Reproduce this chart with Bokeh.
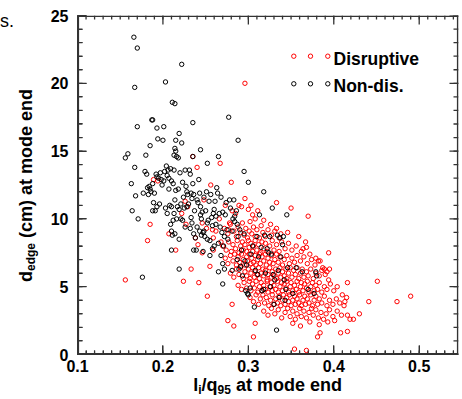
import math
from bokeh.plotting import figure
from bokeh.models import SingleIntervalTicker, Range1d, Label, Div
from bokeh.layouts import row, column
from bokeh.embed import file_html
from bokeh.resources import INLINE

# ---------------- data (l_i/q95, d_edge in cm) ----------------
disruptive_pts = [
    (0.296, 20.0), (0.156, 5.5), (0.182, 8.4), (0.185, 9.6), (0.189, 12.9), (0.194, 12.8),
    (0.207, 8.9), (0.215, 7.7), (0.224, 5.4), (0.226, 11.3), (0.233, 6.3), (0.235, 14.6),
    (0.240, 13.8), (0.242, 5.3), (0.248, 11.4), (0.246, 7.5), (0.252, 4.3), (0.256, 12.5),
    (0.255, 6.5), (0.259, 7.7), (0.267, 14.1), (0.268, 8.3), (0.276, 2.5), (0.280, 12.7),
    (0.281, 3.7), (0.283, 2.1), (0.289, 11.0), (0.296, 11.5), (0.306, 1.3), (0.308, 2.3),
    (0.333, 11.2), (0.350, 10.8), (0.370, 10.2), (0.354, 0.4), (0.368, 0.3), (0.381, 1.3),
    (0.384, 1.6), (0.408, 1.6), (0.416, 1.7), (0.416, 5.3), (0.441, 3.9), (0.451, 5.4),
    (0.474, 3.9), (0.490, 4.3), (0.430, 3.0), (0.423, 2.6), (0.416, 2.9), (0.412, 3.6),
    (0.410, 4.4), (0.415, 4.2), (0.394, 5.5), (0.394, 7.5), (0.387, 6.4), (0.389, 6.3),
    (0.379, 7.1), (0.367, 8.3), (0.246, 9.7), (0.251, 9.3), (0.262, 9.1), (0.266, 10.0),
    (0.259, 8.6), (0.241, 8.1), (0.238, 8.6), (0.229, 10.9), (0.222, 10.4), (0.227, 9.6),
    (0.273, 11.0), (0.278, 9.7), (0.285, 10.4), (0.292, 10.9), (0.300, 10.7), (0.305, 10.3),
    (0.311, 10.6), (0.303, 11.0), (0.318, 9.9), (0.326, 9.6), (0.333, 9.3), (0.338, 8.9),
    (0.346, 9.0), (0.359, 8.7), (0.364, 7.8), (0.372, 7.4), (0.382, 6.9), (0.392, 6.1),
    (0.308, 10.0), (0.281, 10.6), (0.277, 9.2), (0.258, 9.2),
    (0.272, 9.3), (0.276, 8.9), (0.279, 9.6), (0.283, 9.1), (0.286, 8.7), (0.288, 9.4),
    (0.291, 9.0), (0.293, 9.7), (0.295, 8.8), (0.297, 9.3), (0.299, 8.6), (0.301, 9.1),
    (0.302, 9.8), (0.304, 8.9), (0.306, 9.4), (0.308, 8.7), (0.310, 9.2), (0.313, 8.6),
    (0.315, 9.5), (0.317, 9.0), (0.320, 8.7), (0.323, 9.2), (0.327, 8.8), (0.331, 9.1),
    (0.336, 8.6),
    (0.270, 8.0), (0.274, 7.7), (0.277, 8.3), (0.280, 7.6), (0.282, 8.1), (0.285, 7.8),
    (0.287, 8.4), (0.289, 7.5), (0.291, 8.0), (0.293, 8.3), (0.294, 7.7), (0.296, 8.1),
    (0.298, 7.6), (0.300, 8.4), (0.301, 7.9), (0.303, 8.2), (0.305, 7.6), (0.306, 8.0),
    (0.308, 8.4), (0.310, 7.7), (0.312, 8.1), (0.314, 7.5), (0.316, 8.3), (0.318, 7.8),
    (0.320, 8.2), (0.322, 7.6), (0.325, 8.0), (0.328, 8.4), (0.330, 7.7), (0.333, 8.1),
    (0.336, 7.6), (0.339, 8.3), (0.343, 7.8), (0.347, 8.2), (0.351, 7.7), (0.356, 8.0),
    (0.362, 7.6), (0.368, 7.9),
    (0.273, 7.1), (0.276, 6.7), (0.279, 7.3), (0.282, 6.9), (0.284, 7.4), (0.286, 6.6),
    (0.288, 7.2), (0.290, 6.8), (0.292, 7.4), (0.294, 7.0), (0.296, 6.6), (0.298, 7.2),
    (0.299, 6.9), (0.301, 7.4), (0.303, 6.7), (0.304, 7.1), (0.306, 6.8), (0.308, 7.3),
    (0.309, 6.6), (0.311, 7.0), (0.313, 7.4), (0.314, 6.7), (0.316, 7.2), (0.318, 6.9),
    (0.320, 7.4), (0.321, 6.6), (0.323, 7.1), (0.325, 6.8), (0.327, 7.3), (0.329, 6.7),
    (0.331, 7.0), (0.333, 7.4), (0.335, 6.8), (0.337, 7.2), (0.340, 6.6), (0.342, 7.0),
    (0.345, 7.3), (0.348, 6.7), (0.351, 7.1), (0.354, 6.8), (0.357, 7.3), (0.361, 6.9),
    (0.365, 7.2), (0.369, 6.7), (0.374, 7.0), (0.378, 6.6), (0.384, 6.9),
    (0.279, 6.0), (0.283, 5.7), (0.286, 6.3), (0.289, 5.9), (0.291, 6.4), (0.294, 5.6),
    (0.296, 6.1), (0.298, 5.8), (0.300, 6.3), (0.302, 5.6), (0.303, 6.0), (0.305, 6.4),
    (0.307, 5.7), (0.308, 6.1), (0.310, 5.9), (0.312, 6.4), (0.313, 5.6), (0.315, 6.0),
    (0.317, 6.3), (0.318, 5.8), (0.320, 6.2), (0.322, 5.5), (0.323, 5.9), (0.325, 6.4),
    (0.327, 5.7), (0.328, 6.1), (0.330, 5.8), (0.332, 6.3), (0.333, 5.6), (0.335, 6.0),
    (0.337, 6.4), (0.338, 5.7), (0.340, 6.1), (0.342, 5.8), (0.344, 6.3), (0.345, 5.6),
    (0.347, 6.0), (0.349, 6.4), (0.351, 5.7), (0.353, 6.2), (0.355, 5.9), (0.357, 6.4),
    (0.359, 5.6), (0.361, 6.0), (0.363, 6.3), (0.365, 5.7), (0.368, 6.1), (0.370, 5.8),
    (0.373, 6.3), (0.376, 5.6), (0.379, 6.0), (0.383, 5.8), (0.386, 6.2), (0.390, 5.9),
    (0.395, 6.3),
    (0.288, 5.1), (0.292, 4.8), (0.295, 5.3), (0.298, 4.9), (0.301, 5.4), (0.303, 4.7),
    (0.305, 5.2), (0.307, 4.9), (0.309, 5.4), (0.311, 4.6), (0.313, 5.0), (0.315, 5.3),
    (0.316, 4.7), (0.318, 5.1), (0.320, 4.8), (0.322, 5.4), (0.323, 4.6), (0.325, 5.0),
    (0.327, 5.3), (0.328, 4.7), (0.330, 5.1), (0.332, 4.8), (0.334, 5.4), (0.335, 4.6),
    (0.337, 5.0), (0.339, 5.3), (0.340, 4.7), (0.342, 5.2), (0.344, 4.9), (0.345, 5.4),
    (0.347, 4.6), (0.349, 5.0), (0.350, 5.3), (0.352, 4.7), (0.354, 5.1), (0.356, 4.8),
    (0.357, 5.4), (0.359, 4.6), (0.361, 5.0), (0.362, 5.3), (0.364, 4.7), (0.366, 5.2),
    (0.368, 4.9), (0.369, 5.4), (0.371, 4.6), (0.373, 5.0), (0.375, 5.3), (0.377, 4.7),
    (0.379, 5.1), (0.381, 4.8), (0.383, 5.3), (0.386, 4.6), (0.389, 5.0), (0.392, 4.8),
    (0.396, 5.2), (0.400, 4.7), (0.404, 5.0),
    (0.302, 4.2), (0.306, 3.9), (0.309, 4.4), (0.312, 3.7), (0.314, 4.1), (0.317, 4.4),
    (0.319, 3.8), (0.321, 4.2), (0.324, 3.6), (0.326, 4.0), (0.328, 4.4), (0.330, 3.7),
    (0.332, 4.1), (0.334, 3.8), (0.336, 4.3), (0.338, 3.6), (0.340, 4.0), (0.341, 4.4),
    (0.343, 3.7), (0.345, 4.2), (0.347, 3.9), (0.348, 4.4), (0.350, 3.6), (0.352, 4.0),
    (0.354, 4.3), (0.355, 3.7), (0.357, 4.1), (0.359, 3.8), (0.360, 4.4), (0.362, 3.6),
    (0.364, 4.0), (0.366, 4.3), (0.367, 3.7), (0.369, 4.1), (0.371, 3.8), (0.373, 4.4),
    (0.375, 3.6), (0.377, 4.0), (0.379, 4.3), (0.381, 3.7), (0.383, 4.1), (0.386, 3.8),
    (0.389, 4.3), (0.392, 3.6), (0.395, 4.0), (0.399, 3.7), (0.403, 4.1), (0.407, 3.8),
    (0.413, 3.9),
    (0.318, 3.2), (0.323, 2.9), (0.327, 3.4), (0.331, 3.0), (0.335, 3.3), (0.339, 2.7),
    (0.343, 3.1), (0.346, 3.4), (0.349, 2.8), (0.352, 3.2), (0.355, 2.6), (0.357, 3.0),
    (0.360, 3.4), (0.362, 2.8), (0.365, 3.2), (0.368, 2.7), (0.371, 3.1), (0.374, 3.4),
    (0.376, 2.9), (0.379, 3.3), (0.382, 2.7), (0.385, 3.1), (0.388, 2.6), (0.391, 3.0),
    (0.395, 3.3), (0.399, 2.8), (0.404, 3.2), (0.409, 2.9), (0.419, 2.6),
    (0.352, 2.3), (0.361, 2.1), (0.372, 2.4), (0.383, 2.2), (0.393, 2.4), (0.401, 2.5),
]

nondisruptive_pts = [
    (0.166, 23.4), (0.170, 22.6), (0.222, 21.4), (0.203, 20.1), (0.167, 19.7), (0.211, 18.6),
    (0.214, 18.5), (0.277, 17.5), (0.187, 17.3), (0.188, 17.3), (0.235, 17.1), (0.170, 16.8),
    (0.201, 16.8), (0.193, 16.7), (0.219, 16.3), (0.194, 15.9), (0.215, 15.8), (0.200, 15.8),
    (0.288, 15.8), (0.222, 15.6), (0.185, 15.4), (0.214, 15.2), (0.244, 15.1), (0.215, 15.0),
    (0.159, 14.8), (0.213, 14.7), (0.180, 14.7), (0.216, 14.6), (0.265, 14.6), (0.156, 14.5),
    (0.218, 14.5), (0.235, 14.6), (0.252, 14.1), (0.167, 13.8), (0.295, 13.5), (0.300, 12.7),
    (0.318, 12.0), (0.328, 10.8), (0.313, 10.3), (0.345, 10.3),
    (0.163, 12.6), (0.168, 11.7), (0.164, 10.6), (0.171, 10.0), (0.176, 5.7), (0.177, 11.9),
    (0.179, 13.5), (0.181, 13.3), (0.182, 12.3), (0.184, 12.4), (0.186, 12.0), (0.188, 12.6),
    (0.190, 11.9), (0.188, 10.6), (0.191, 10.6), (0.193, 10.9), (0.189, 11.2), (0.192, 13.3),
    (0.193, 13.1), (0.195, 13.0), (0.196, 11.1), (0.197, 13.4), (0.198, 12.9), (0.199, 12.5),
    (0.185, 12.2), (0.183, 11.8),
    (0.201, 12.8), (0.202, 13.5), (0.204, 13.9), (0.206, 13.6), (0.205, 13.2), (0.207, 13.0),
    (0.209, 13.7), (0.210, 12.8), (0.212, 12.6), (0.213, 13.6), (0.215, 12.1), (0.203, 10.8),
    (0.205, 10.4), (0.208, 11.0), (0.210, 10.9), (0.213, 10.4), (0.216, 10.0), (0.217, 10.9),
    (0.219, 10.7), (0.209, 9.6), (0.210, 9.1), (0.211, 8.8), (0.214, 8.9), (0.210, 7.7),
    (0.219, 6.3), (0.219, 8.5), (0.221, 10.0), (0.223, 9.9), (0.218, 12.2), (0.220, 13.4),
    (0.223, 12.7), (0.226, 13.6), (0.227, 12.4), (0.224, 11.6), (0.225, 10.8), (0.228, 10.9),
    (0.226, 9.4), (0.229, 11.8), (0.230, 11.1), (0.231, 13.6), (0.232, 13.3), (0.233, 11.9),
    (0.234, 11.5), (0.235, 12.6), (0.236, 11.8), (0.237, 10.6), (0.233, 10.1), (0.232, 9.3),
    (0.234, 9.7), (0.236, 8.9), (0.238, 8.6), (0.236, 7.7), (0.239, 7.7), (0.207, 12.2),
    (0.214, 11.4), (0.221, 11.1), (0.228, 12.0), (0.212, 9.9),
    (0.240, 11.4), (0.241, 11.2), (0.242, 12.9), (0.243, 11.9), (0.244, 10.3), (0.245, 10.0),
    (0.246, 10.5), (0.247, 9.0), (0.248, 9.1), (0.249, 8.7), (0.250, 10.6), (0.252, 9.7),
    (0.253, 9.9), (0.254, 11.3), (0.255, 8.4), (0.257, 10.1), (0.258, 9.5), (0.259, 10.4),
    (0.260, 10.7), (0.261, 11.3), (0.262, 9.6), (0.263, 12.3), (0.264, 11.9), (0.265, 8.2),
    (0.266, 10.4), (0.268, 11.6), (0.269, 9.0), (0.270, 10.5), (0.271, 8.0), (0.272, 8.7),
    (0.273, 10.3), (0.274, 11.2), (0.275, 9.2), (0.276, 8.5), (0.278, 11.4), (0.279, 10.8),
    (0.281, 9.1), (0.282, 10.0), (0.284, 10.2), (0.286, 10.6), (0.287, 9.6), (0.288, 8.7),
    (0.290, 9.2), (0.265, 6.1), (0.268, 7.3), (0.270, 6.7), (0.272, 6.3), (0.270, 5.2),
    (0.255, 7.3), (0.247, 7.6), (0.258, 7.8), (0.283, 11.4), (0.284, 9.8), (0.260, 8.0),
    (0.252, 8.5), (0.243, 9.1), (0.245, 8.8), (0.240, 9.4), (0.248, 11.6), (0.256, 11.8),
    (0.262, 10.2), (0.267, 9.4), (0.251, 12.0), (0.244, 10.9),
    (0.281, 6.2), (0.287, 7.0), (0.289, 6.3), (0.291, 6.5), (0.293, 5.8), (0.292, 7.7),
    (0.295, 8.9), (0.296, 6.9), (0.298, 6.6), (0.297, 4.7), (0.299, 4.5), (0.300, 4.4),
    (0.302, 4.9), (0.303, 7.4), (0.305, 8.0), (0.307, 3.5), (0.308, 6.2), (0.310, 8.7),
    (0.311, 5.9), (0.312, 7.2), (0.315, 7.9), (0.316, 4.7), (0.319, 8.8), (0.320, 6.0),
    (0.322, 7.8), (0.324, 7.5), (0.325, 8.7), (0.327, 7.4), (0.329, 5.9), (0.330, 3.7),
    (0.331, 5.5), (0.333, 1.8), (0.334, 8.8), (0.335, 6.2), (0.337, 8.6), (0.338, 7.2),
    (0.340, 8.1), (0.341, 8.7), (0.342, 5.5), (0.344, 4.8), (0.343, 4.0), (0.346, 6.4),
    (0.352, 4.5), (0.356, 6.4), (0.363, 6.1), (0.370, 4.8), (0.377, 4.5), (0.379, 6.1),
    (0.380, 5.8), (0.318, 4.8), (0.326, 5.0), (0.336, 4.2),
]

series_names = ["Disruptive", "Non-dis."]
series_colors = ["#ff0000", "#000000"]
x_major_step, x_minor_per_major = 0.1, 10
y_major_step, y_minor_per_major = 5, 5

dis_x = [p[0] for p in disruptive_pts]
dis_y = [p[1] for p in disruptive_pts]
non_x = [p[0] for p in nondisruptive_pts]
non_y = [p[1] for p in nondisruptive_pts]

# ---------------- layout ----------------
W, H = 462, 399
YW = 38
PW, PH = W - YW, 378
XH = H - PH
BL, BR, BT, BB = 77 - YW, 4, 15, PH - 354
X0, X1 = 0.1, 0.546
Y0, Y1 = 0.0, 25.0
FW, FH = PW - BL - BR, PH - BT - BB
DX_PER_PX = (X1 - X0) / FW
DY_PER_PX = (Y1 - Y0) / FH


def px2x(px):
    return X0 + (px - YW - BL) * DX_PER_PX


def py2y(py):
    return Y1 - (py - BT) * DY_PER_PX


FONT = "Liberation Sans"
AX = "#333333"

p = figure(width=PW, height=PH, output_backend="svg", toolbar_location=None,
           x_range=Range1d(X0, X1), y_range=Range1d(Y0, Y1),
           min_border_left=BL, min_border_right=BR, min_border_top=BT, min_border_bottom=BB)
p.outline_line_color = None
p.xgrid.visible = False
p.ygrid.visible = False

for ax, kind in ((p.xaxis[0], "x"), (p.yaxis[0], "y")):
    ax.ticker = (SingleIntervalTicker(interval=x_major_step, num_minor_ticks=x_minor_per_major) if kind == "x"
                 else SingleIntervalTicker(interval=y_major_step, num_minor_ticks=y_minor_per_major))
    ax.axis_line_color = AX
    ax.major_tick_line_color = AX
    ax.minor_tick_line_color = AX
    ax.major_tick_in = 9
    ax.major_tick_out = 0
    ax.minor_tick_in = 4 if kind == "x" else 5
    ax.minor_tick_out = 0
    ax.major_label_text_font = FONT
    ax.major_label_text_font_style = "bold"
    ax.major_label_text_color = "black"
    ax.major_label_text_font_size = "16px"
    ax.major_label_standoff = 5 if kind == "x" else 9

# ---------------- frame and inward ticks drawn as "dash" scatter markers ----------------
n_x_minor = int(round((X1 - X0) / (x_major_step / x_minor_per_major)))
x_minor = [round(X0 + i * x_major_step / x_minor_per_major, 4) for i in range(n_x_minor + 1)]
x_major = [t for t in x_minor if abs(round(t / x_major_step) * x_major_step - t) < 1e-6]
y_minor = [Y0 + i * y_major_step / y_minor_per_major for i in range(int((Y1 - Y0) / (y_major_step / y_minor_per_major)) + 1)]
y_major = [t for t in y_minor if abs(t % y_major_step) < 1e-6]

# vertical ticks on bottom and top edges
vx, vy, vs = [], [], []
for vals, Lpx in ((x_minor, 4), (x_major, 9)):
    for t in vals:
        vx += [t, t]
        vy += [Y0 + Lpx / 2 * DY_PER_PX, Y1 - Lpx / 2 * DY_PER_PX]
        vs += [Lpx, Lpx]
p.scatter(x=vx, y=vy, size=vs, marker="dash", angle=math.pi / 2,
          line_color=AX, line_width=1.3, fill_color=None)
# horizontal ticks on left and right edges
hx, hy, hs = [], [], []
for vals, Lpx in ((y_minor, 5), (y_major, 9)):
    for t in vals:
        hy += [t, t]
        hx += [X0 + Lpx / 2 * DX_PER_PX, X1 - Lpx / 2 * DX_PER_PX]
        hs += [Lpx, Lpx]
p.scatter(x=hx, y=hy, size=hs, marker="dash", line_color=AX, line_width=1.3, fill_color=None)

# ---------------- data marks ----------------
MS = 4.4
p.scatter(dis_x, dis_y, marker="circle", size=MS, fill_color=None,
          line_color=series_colors[0], line_width=1)
p.scatter(non_x, non_y, marker="circle", size=MS, fill_color=None,
          line_color=series_colors[1], line_width=1)

# frame: four long dash markers just inside the frame edges
FWPX = 1.6
p.scatter(x=[(X0 + X1) / 2] * 2, y=[Y0 + FWPX / 2 * DY_PER_PX, Y1 - FWPX / 2 * DY_PER_PX],
          size=FW, marker="dash", line_color=AX, line_width=FWPX, fill_color=None)
p.scatter(x=[X0 + FWPX / 2 * DX_PER_PX, X1 - FWPX / 2 * DX_PER_PX], y=[(Y0 + Y1) / 2] * 2,
          size=FH, marker="dash", angle=math.pi / 2, line_color=AX, line_width=FWPX, fill_color=None)

# ---------------- legend ----------------
leg_px = [293.3, 310.0, 327.3]
leg_rows = [55.7, 83.3]
for name, col, rowy in zip(series_names, series_colors, leg_rows):
    p.scatter([px2x(v) for v in leg_px], [py2y(rowy)] * 3, marker="circle", size=MS,
              fill_color=None, line_color=col, line_width=1)
    p.add_layout(Label(x=px2x(333), y=py2y(rowy + 2.6), text=name, text_font=FONT,
                       text_font_style="bold", text_font_size="17.5px", text_color="black",
                       text_baseline="middle", text_align="left"))

# ---------------- axis titles (HTML, for the subscripts) ----------------
TXT = "font-family:'Liberation Sans',Arial,sans-serif;font-weight:bold;font-size:18px;line-height:18px;white-space:nowrap;color:black;"
SUB = "position:relative;top:3px;font-size:12px;"
BASE_OFF = 15.24

y_title_html = (
    f'<div style="position:relative;width:{YW}px;height:{H}px;overflow:visible;">'
    f'<div style="position:absolute;left:0px;top:{27 - 15.3:.1f}px;font-family:\'Liberation Sans\',Arial,sans-serif;'
    f'font-size:18px;line-height:18px;white-space:nowrap;color:black;">s.</div>'
    f'<div style="position:absolute;left:{32.3 - BASE_OFF:.1f}px;top:281.7px;transform-origin:0 0;'
    f'transform:rotate(-90deg);{TXT}">d<span style="{SUB}">edge</span> (cm) at mode end</div>'
    f'</div>'
)
x_title_html = (
    f'<div style="position:relative;width:{PW}px;height:{XH}px;overflow:visible;">'
    f'<div style="position:absolute;left:{193.2 - YW:.1f}px;top:{391.5 - PH - BASE_OFF:.1f}px;{TXT}">'
    f'l<span style="{SUB}">i</span>/q<span style="{SUB}">95</span> at mode end</div>'
    f'</div>'
)

ydiv = Div(text=y_title_html, width=YW, height=H, styles={"overflow": "visible", "margin": "0"})
xdiv = Div(text=x_title_html, width=PW, height=XH, styles={"overflow": "visible", "margin": "0"})

layout = row(ydiv, column(p, xdiv, spacing=0), spacing=0)

open("out.html", "w").write(file_html(layout, INLINE))
